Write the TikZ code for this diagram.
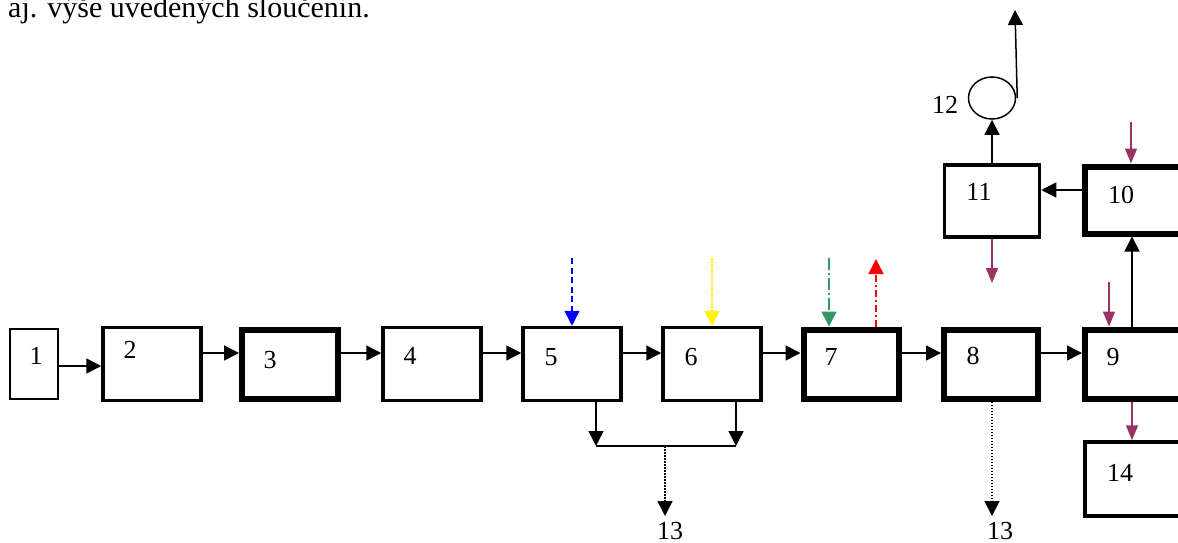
\documentclass[tikz,border=0pt]{standalone}
\usepackage{fontspec}
\setmainfont{Liberation Serif}
\usetikzlibrary{arrows.meta,shapes.geometric}
\definecolor{mag}{RGB}{153,51,102}
\definecolor{sgreen}{RGB}{58,149,102}
\begin{document}
\begin{tikzpicture}[x=1pt,y=-1pt,
 box/.style={draw,rectangle,minimum width=98pt,minimum height=73pt,inner sep=0pt},
 thinbox/.style={box,line width=1.5pt},
 medbox/.style={box,line width=3.5pt},
 thickbox/.style={box,line width=6pt},
 num/.style={font=\fontsize{26}{26}\selectfont,inner sep=0pt},
 arr/.style={line width=1.5pt,-{Triangle[length=15pt,width=15pt]}},
 marr/.style={arr,draw=mag,-{Triangle[length=15pt,width=12pt]}},
 dotarr/.style={arr,dash pattern=on 1.5pt off 1.5pt},
]
\useasboundingbox (0,0) rectangle (1178,543);
\node[font=\fontsize{30}{30}\selectfont,anchor=base west,inner sep=0pt] (title) at (8,18) {aj. výše uvedených sloučenin.};
% boxes
\node[thinbox,minimum width=48pt,minimum height=70pt] (n1) at (34,364) {};
\node[medbox] (n2) at (152,364) {};
\node[thickbox,minimum width=96pt,minimum height=69pt] (n3) at (290,364) {};
\node[medbox] (n4) at (432,364) {};
\node[medbox] (n5) at (572,364) {};
\node[medbox] (n6) at (712,364) {};
\node[thickbox,minimum width=95pt,minimum height=69pt] (n7) at (851,364) {};
\node[thickbox,minimum width=94pt,minimum height=69pt] (n8) at (991,364) {};
\node[thickbox,minimum width=100pt,minimum height=69pt] (n9) at (1135,364) {};
\node[thickbox,minimum width=100pt,minimum height=67pt] (n10) at (1135,200) {};
\node[medbox,minimum width=95pt,minimum height=72pt] (n11) at (992,201) {};
\node[medbox,minimum width=100pt,minimum height=74pt] (n14) at (1135,479) {};
\node[draw,ellipse,line width=1.5pt,minimum width=47pt,minimum height=42pt,inner sep=0pt] (n12) at (992,98) {};
% labels
\node[num] (t1) at (36,356) {1};
\node[num] (t2) at (130,350) {2};
\node[num] (t3) at (270,360) {3};
\node[num] (t4) at (410,356) {4};
\node[num] (t5) at (551,357) {5};
\node[num] (t6) at (691,357) {6};
\node[num] (t7) at (831,357) {7};
\node[num] (t8) at (973,356) {8};
\node[num] (t9) at (1113,357) {9};
\node[num] (t10) at (1121,195) {10};
\node[num] (t11) at (979,192) {11};
\node[num] (t14) at (1120,473) {14};
\node[num] (t12) at (945,105) {12};
% main flow
\draw[arr] ([yshift=-2pt]n1.east) -- ([yshift=-2pt]n1.east -| n2.west);
\draw[arr] ([yshift=11pt]n2.east) -- ([yshift=11pt]n3.west);
\draw[arr] ([yshift=11pt]n3.east) -- ([yshift=11pt]n4.west);
\draw[arr] ([yshift=11pt]n4.east) -- ([yshift=11pt]n5.west);
\draw[arr] ([yshift=11pt]n5.east) -- ([yshift=11pt]n6.west);
\draw[arr] ([yshift=11pt]n6.east) -- ([yshift=11pt]n7.west);
\draw[arr] ([yshift=11pt]n7.east) -- ([yshift=11pt]n8.west);
\draw[arr] ([yshift=11pt]n8.east) -- ([yshift=11pt]n9.west);
% upper branch
\coordinate (p9) at (1132,0);
\draw[arr] (p9 |- n9.north) -- (p9 |- n10.south);
\draw[arr] ([yshift=10pt]n10.west) -- ([yshift=10pt]n10.west -| n11.east);
\draw[arr] (n11.north) -- (n12.south);
\coordinate (out) at (1015,10);
\draw[arr] ([xshift=1pt]n12.east) -- (out);
% magenta arrows
\coordinate (m10) at (1131,122);
\draw[marr] (m10) -- (m10 |- n10.north);
\coordinate (m11) at (992,283);
\draw[marr] (n11.south -| m11) -- (m11);
\coordinate (m9) at (1109,282);
\draw[marr] (m9) -- (m9 |- n9.north);
\coordinate (m14) at (1132,0);
\draw[marr] (m14 |- n9.south) -- (m14 |- n14.north);
% coloured inputs
\coordinate (cb) at (572,258);
\draw[arr,draw=blue,dash pattern=on 6pt off 3.5pt] (cb) -- (cb |- n5.north);
\coordinate (cy) at (712,258);
\draw[arr,draw=yellow,dash pattern=on 1.5pt off 1.5pt] (cy) -- (cy |- n6.north);
\coordinate (cg) at (829,258);
\draw[arr,draw=sgreen,dash pattern=on 12pt off 3pt on 2pt off 3pt] (cg) -- (cg |- n7.north);
\coordinate (cr) at (876,259);
\draw[arr,draw=red,dash pattern=on 7pt off 3pt on 2pt off 3pt] (cr |- n7.north) -- (cr);
% lower outputs
\coordinate (j1) at (596,446);
\coordinate (j2) at (736,446);
\coordinate (jm) at (665,446);
\draw[arr] (j1 |- n5.south) -- (j1);
\draw[arr] (j2 |- n6.south) -- (j2);
\draw[line width=1.5pt] (j1) -- (j2);
\coordinate (e1) at (665,516);
\draw[dotarr] (jm) -- (e1);
\node[num] (t13a) at (670,531) {13};
\coordinate (e2) at (992,516);
\draw[dotarr] (n8.south -| e2) -- (e2);
\node[num] (t13b) at (1000,531) {13};
\end{tikzpicture}
\end{document}
